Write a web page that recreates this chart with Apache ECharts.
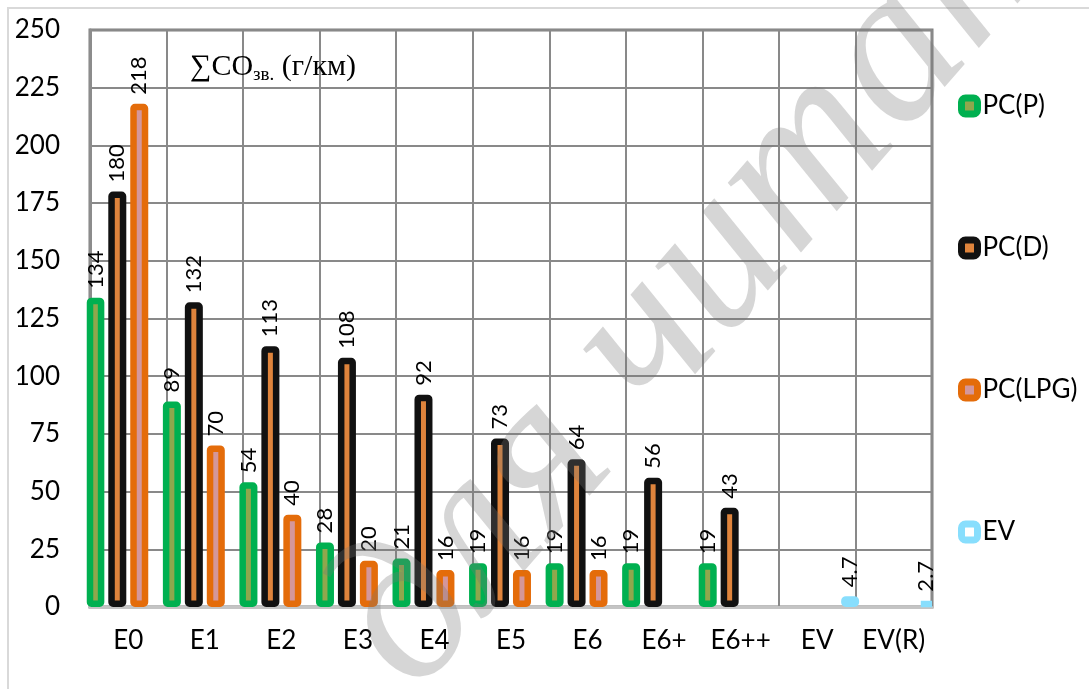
<!DOCTYPE html>
<html>
<head>
<meta charset="utf-8">
<script src="https://cdn.jsdelivr.net/npm/echarts@6/dist/echarts.min.js"></script>
<style>
  html, body { margin: 0; padding: 0; background: #ffffff; }
  #chart { width: 1089px; height: 689px; }
</style>
</head>
<body>
<div id="chart"></div>
<script>
// Emission classes on the category axis
const categories = ['E0', 'E1', 'E2', 'E3', 'E4', 'E5', 'E6', 'E6+', 'E6++', 'EV', 'EV(R)'];

// ΣCO2-eq, g/km, per vehicle type
const pcPetrol = [134, 89, 54, 28, 21, 19, 19, 19, 19, null, null];
const pcDiesel = [180, 132, 113, 108, 92, 73, 64, 56, 43, null, null];
const pcLpg    = [218, 70, 40, 20, 16, 16, 16, null, null, null, null];
const evValues = [null, null, null, null, null, null, null, null, null, 4.7, 2.7];

// Value axis range and step
const yMin = 0;
const yMax = 250;
const yStep = 25;

const seriesNames = ['PC(P)', 'PC(D)', 'PC(LPG)', 'EV'];

const sansFont = 'Lato, "Noto Sans", sans-serif';
const serifFont = '"Liberation Serif", "DejaVu Serif", serif';

const styles = [
  { fill: '#8FA74D', border: '#00B050' },
  { fill: '#DF843C', border: '#111111' },
  { fill: '#D4979B', border: '#E46C0A' },
  { fill: '#FFFFFF', border: '#88DEFD' }
];

function barSeries(name, data, st) {
  return {
    name: name,
    type: 'bar',
    data: data,
    barWidth: 18,
    barGap: '22%',
    itemStyle: {
      color: st.fill,
      borderColor: st.border,
      borderWidth: 6.5,
      borderRadius: 1.5
    },
    label: {
      show: true,
      position: 'top',
      rotate: 90,
      align: 'left',
      verticalAlign: 'middle',
      distance: 9,
      fontSize: 22,
      fontFamily: sansFont,
      color: '#000000'
    }
  };
}

const legendItems = seriesNames.map(function (name, i) {
  return {
    name: name,
    itemStyle: { color: styles[i].fill, borderColor: styles[i].border, borderWidth: 7 }
  };
});

const chart = echarts.init(document.getElementById('chart'), null, { renderer: 'canvas' });

chart.setOption({
  backgroundColor: '#ffffff',
  animation: false,
  title: {
    left: 185,
    top: 44,
    text: '{a|∑CO}{b|зв.}{a| (г/км)}',
    textStyle: {
      fontWeight: 'normal',
      rich: {
        a: { fontFamily: serifFont, fontSize: 30, fontWeight: 'normal', color: '#000', lineHeight: 36 },
        b: { fontFamily: serifFont, fontSize: 19, fontWeight: 'normal', color: '#000', lineHeight: 20, verticalAlign: 'bottom' }
      }
    }
  },
  grid: {
    left: 90,
    right: 157,
    top: 30,
    bottom: 82,
    show: true,
    borderColor: '#7f7f7f',
    borderWidth: 3,
    backgroundColor: 'transparent'
  },
  legend: {
    orient: 'vertical',
    left: 953,
    top: 86,
    itemGap: 112,
    itemWidth: 16,
    itemHeight: 16,
    icon: 'roundRect',
    textStyle: { fontSize: 26, fontFamily: sansFont, color: '#000', lineHeight: 30 },
    data: legendItems
  },
  xAxis: {
    type: 'category',
    data: categories,
    boundaryGap: true,
    axisTick: { show: false },
    axisLine: { show: true, lineStyle: { color: '#c4c4c4', width: 3 } },
    axisLabel: { fontSize: 26, fontFamily: sansFont, color: '#000', margin: 21, interval: 0 },
    splitLine: { show: true, interval: 0, lineStyle: { color: '#898989', width: 2 } }
  },
  yAxis: {
    type: 'value',
    min: yMin,
    max: yMax,
    interval: yStep,
    axisTick: { show: false },
    axisLine: { show: true, lineStyle: { color: '#8c8c8c', width: 3 } },
    axisLabel: { fontSize: 26, fontFamily: sansFont, color: '#000', margin: 30 },
    splitLine: { show: true, lineStyle: { color: '#898989', width: 2 } }
  },
  series: [
    barSeries(seriesNames[0], pcPetrol, styles[0]),
    barSeries(seriesNames[1], pcDiesel, styles[1]),
    barSeries(seriesNames[2], pcLpg, styles[2]),
    barSeries(seriesNames[3], evValues, styles[3])
  ],
  graphic: [
    {
      type: 'rect',
      silent: true,
      z: -10,
      shape: { x: 8, y: 8, width: 1200, height: 800 },
      style: { fill: 'none', stroke: '#d9d9d9', lineWidth: 2 }
    },
    {
      type: 'text',
      silent: true,
      z: 100,
      x: 455,
      y: 730,
      rotation: Math.PI * 49 / 180,
      style: {
        text: 'для читання',
        font: 'italic 220px ' + serifFont,
        fill: 'rgba(120,120,120,0.3)',
        textAlign: 'left',
        textVerticalAlign: 'bottom'
      }
    }
  ]
});
</script>
</body>
</html>
